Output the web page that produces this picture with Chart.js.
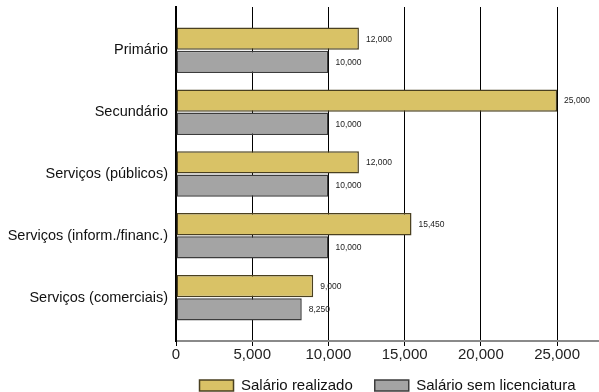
<!DOCTYPE html>
<html>
<head>
<meta charset="utf-8">
<script src="https://cdn.jsdelivr.net/npm/chart.js@4.4.1/dist/chart.umd.min.js"></script>
<style>
  html, body { margin: 0; padding: 0; background: #fff; overflow: hidden; }
  #wrap { width: 599px; height: 411px; }
</style>
</head>
<body>
<div id="wrap"><canvas id="salarios"></canvas></div>
<script>
// Sectores e salários (valores anuais)
const categories = ['Primário', 'Secundário', 'Serviços (públicos)', 'Serviços (inform./financ.)', 'Serviços (comerciais)'];
const salarioRealizado = [12000, 25000, 12000, 15450, 9000];
const salarioSemLicenciatura = [10000, 10000, 10000, 10000, 8250];
const xTicks = [0, 5000, 10000, 15000, 20000, 25000];

const fontFamily = '"Liberation Sans", Arial, sans-serif';
const fmt = v => v.toLocaleString('en-US');

// cada barra fica na posição do índice do sector
const toPoints = arr => arr.map((v, i) => ({ x: v, y: i }));

// escreve o valor à frente de cada barra
const valueLabels = {
    id: 'valueLabels',
    afterDatasetsDraw(chart) {
        const ctx = chart.ctx;
        ctx.save();
        ctx.font = '8.5px ' + fontFamily;
        ctx.fillStyle = '#222';
        ctx.textAlign = 'left';
        ctx.textBaseline = 'middle';
        chart.data.datasets.forEach((ds, di) => {
            chart.getDatasetMeta(di).data.forEach((bar, i) => {
                ctx.fillText(fmt(ds.data[i].x), bar.x + 7, bar.y + 0.5);
            });
        });
        ctx.restore();
    }
};

// aproxima a legenda do eixo x
const legendShift = {
    id: 'legendShift',
    afterLayout(chart) {
        chart.legend.top -= 8;
        chart.legend.bottom -= 8;
    }
};

new Chart(document.getElementById('salarios'), {
    type: 'bar',
    data: {
        datasets: [
            {
                label: 'Salário realizado',
                data: toPoints(salarioRealizado),
                backgroundColor: '#d9c266',
                borderColor: '#4a4020',
                borderWidth: 1.5,
                borderSkipped: false
            },
            {
                label: 'Salário sem licenciatura',
                data: toPoints(salarioSemLicenciatura),
                backgroundColor: '#a4a4a4',
                borderColor: '#3c3c3c',
                borderWidth: 1.5,
                borderSkipped: false
            }
        ]
    },
    options: {
        indexAxis: 'y',
        responsive: true,
        maintainAspectRatio: false,
        animation: false,
        categoryPercentage: 0.75,
        barPercentage: 0.96,
        layout: { padding: { top: 7, left: 0, right: 0, bottom: 0 } },
        plugins: {
            tooltip: { enabled: false },
            legend: {
                position: 'bottom',
                fullSize: false,
                labels: {
                    boxWidth: 34,
                    boxHeight: 11,
                    padding: 22,
                    color: '#111',
                    font: { family: fontFamily, size: 15 }
                }
            }
        },
        scales: {
            x: {
                type: 'linear',
                min: 0,
                max: 27750,
                afterBuildTicks: scale => {
                    scale.ticks = xTicks.map(v => ({ value: v }));
                },
                ticks: {
                    color: '#222',
                    padding: 0,
                    font: { family: fontFamily, size: 15 },
                    callback: v => fmt(v)
                },
                grid: { color: '#000', lineWidth: 1, tickLength: 5, tickColor: '#000' },
                border: { color: '#8a8a8a', width: 2 }
            },
            y: {
                type: 'linear',
                reverse: true,
                offset: false,
                min: -0.7,
                max: 4.7,
                afterBuildTicks: scale => {
                    scale.ticks = categories.map((c, i) => ({ value: i }));
                },
                afterFit: scale => {
                    scale.width = 176;
                    scale.paddingTop = 0;
                    scale.paddingBottom = 0;
                },
                ticks: {
                    color: '#111',
                    padding: 8,
                    font: { family: fontFamily, size: 14.5 },
                    callback: v => categories[v]
                },
                grid: { display: false, drawTicks: false, offset: false },
                border: { display: true, color: '#000', width: 2 }
            }
        }
    },
    plugins: [valueLabels, legendShift]
});
</script>
</body>
</html>
